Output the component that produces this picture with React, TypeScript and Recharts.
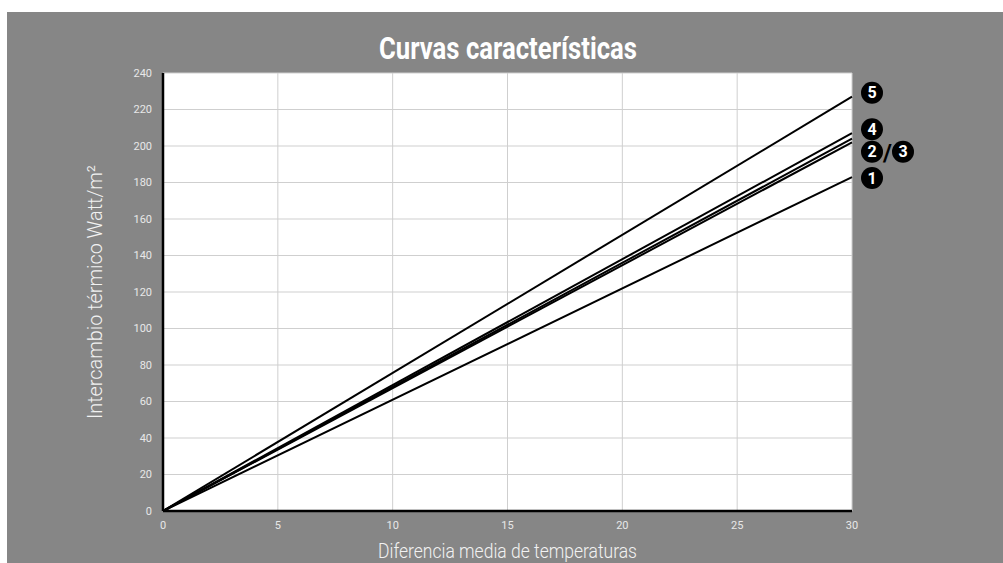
import { LineChart, Line, XAxis, YAxis, CartesianGrid, Label } from 'recharts'

const temps = [0, 30]
const curva1 = [0, 183]
const curva2 = [0, 202]
const curva3 = [0, 204]
const curva4 = [0, 207]
const curva5 = [0, 227]
const xTicks = [0, 5, 10, 15, 20, 25, 30]
const yTicks = [0, 20, 40, 60, 80, 100, 120, 140, 160, 180, 200, 220, 240]

const data = temps.map((t, i) => ({
  t,
  c1: curva1[i],
  c2: curva2[i],
  c3: curva3[i],
  c4: curva4[i],
  c5: curva5[i],
}))

const BG = '#868686'
const condensed = 'Roboto, "Liberation Sans", sans-serif'

function Badge({ cx, cy, n }: { cx: number; cy: number; n: string }) {
  return (
    <g>
      <circle cx={cx} cy={cy} r={11} fill="#000" />
      <text x={cx} y={cy + 5.5} textAnchor="middle" fill="#fff" fontFamily={condensed} fontWeight="bold" fontSize={16}>{n}</text>
    </g>
  )
}

// marker at the end of a line; dy nudges it off the line a little
function endMarker(names: string[], dy: number) {
  return (p: any) => {
    if (p.index !== temps.length - 1) return null
    const cx = p.x + 20
    const cy = p.y + dy
    if (names.length === 1) return <Badge cx={cx} cy={cy} n={names[0]} />
    return (
      <g>
        <Badge cx={cx} cy={cy} n={names[0]} />
        <text x={cx + 15.5} y={cy + 9} textAnchor="middle" fill="#000" fontFamily={condensed} fontWeight="bold" fontSize={24}>/</text>
        <Badge cx={cx + 31} cy={cy} n={names[1]} />
      </g>
    )
  }
}

const tickStyle = { fill: '#e8e8e8', fontSize: 11, fontFamily: 'Roboto, sans-serif' }

export default function App() {
  return (
    <div style={{ position: 'absolute', left: 7, top: 12, width: 996, height: 551, background: BG }}>
      <svg width={996} height={60} style={{ position: 'absolute', left: 0, top: 0 }}>
        <text x={501} y={47} textAnchor="middle" fill="#fff" fontFamily={condensed} fontWeight="bold" fontSize={31} textLength={258} lengthAdjust="spacingAndGlyphs">
          Curvas características
        </text>
      </svg>
      <LineChart width={996} height={551} data={data} margin={{ top: 61, right: 151, bottom: 22, left: 96 }} style={{ position: 'absolute', left: 0, top: 0 }}>
        <CartesianGrid stroke="#cfcfcf" strokeWidth={1} fill="#fff" horizontalValues={yTicks} verticalValues={xTicks} />
        <XAxis
          dataKey="t"
          type="number"
          domain={[0, 30]}
          ticks={xTicks}
          tickLine={false}
          tickMargin={4}
          height={30}
          axisLine={{ stroke: '#000', strokeWidth: 2.5 }}
          tick={tickStyle}
        >
          <Label
            content={(p: any) => (
              <text x={p.viewBox.x + p.viewBox.width / 2} y={p.viewBox.y + 47} textAnchor="middle" fill="#f2f2f2" fontFamily={condensed} fontWeight={300} fontSize={21} textLength={259} lengthAdjust="spacingAndGlyphs">
                Diferencia media de temperaturas
              </text>
            )}
          />
        </XAxis>
        <XAxis xAxisId="top" orientation="top" dataKey="t" type="number" domain={[0, 30]} tick={false} tickLine={false} height={0} axisLine={{ stroke: '#000', strokeWidth: 2.5 }} />
        <YAxis
          type="number"
          domain={[0, 240]}
          ticks={yTicks}
          tickLine={false}
          tickMargin={5}
          width={60}
          axisLine={{ stroke: '#000', strokeWidth: 2.5 }}
          tick={tickStyle}
        >
          <Label
            content={(p: any) => {
              const x = p.viewBox.x - 1
              const y = p.viewBox.y + p.viewBox.height / 2
              return (
                <text x={x} y={y} transform={`rotate(-90 ${x} ${y})`} textAnchor="middle" fill="#f2f2f2" fontFamily={condensed} fontWeight={300} fontSize={21} textLength={254} lengthAdjust="spacingAndGlyphs">
                  Intercambio térmico Watt/m²
                </text>
              )
            }}
          />
        </YAxis>
        <YAxis yAxisId="right" orientation="right" domain={[0, 240]} tick={false} tickLine={false} width={0} axisLine={{ stroke: '#000', strokeWidth: 2.5 }} />
        <Line dataKey="c1" stroke="#000" strokeWidth={2} dot={false} isAnimationActive={false} label={endMarker(['1'], 1)} />
        <Line dataKey="c2" stroke="#000" strokeWidth={2} dot={false} isAnimationActive={false} />
        <Line dataKey="c3" stroke="#000" strokeWidth={2} dot={false} isAnimationActive={false} label={endMarker(['2', '3'], 13)} />
        <Line dataKey="c4" stroke="#000" strokeWidth={2} dot={false} isAnimationActive={false} label={endMarker(['4'], -4)} />
        <Line dataKey="c5" stroke="#000" strokeWidth={2} dot={false} isAnimationActive={false} label={endMarker(['5'], -4)} />
      </LineChart>
    </div>
  )
}
